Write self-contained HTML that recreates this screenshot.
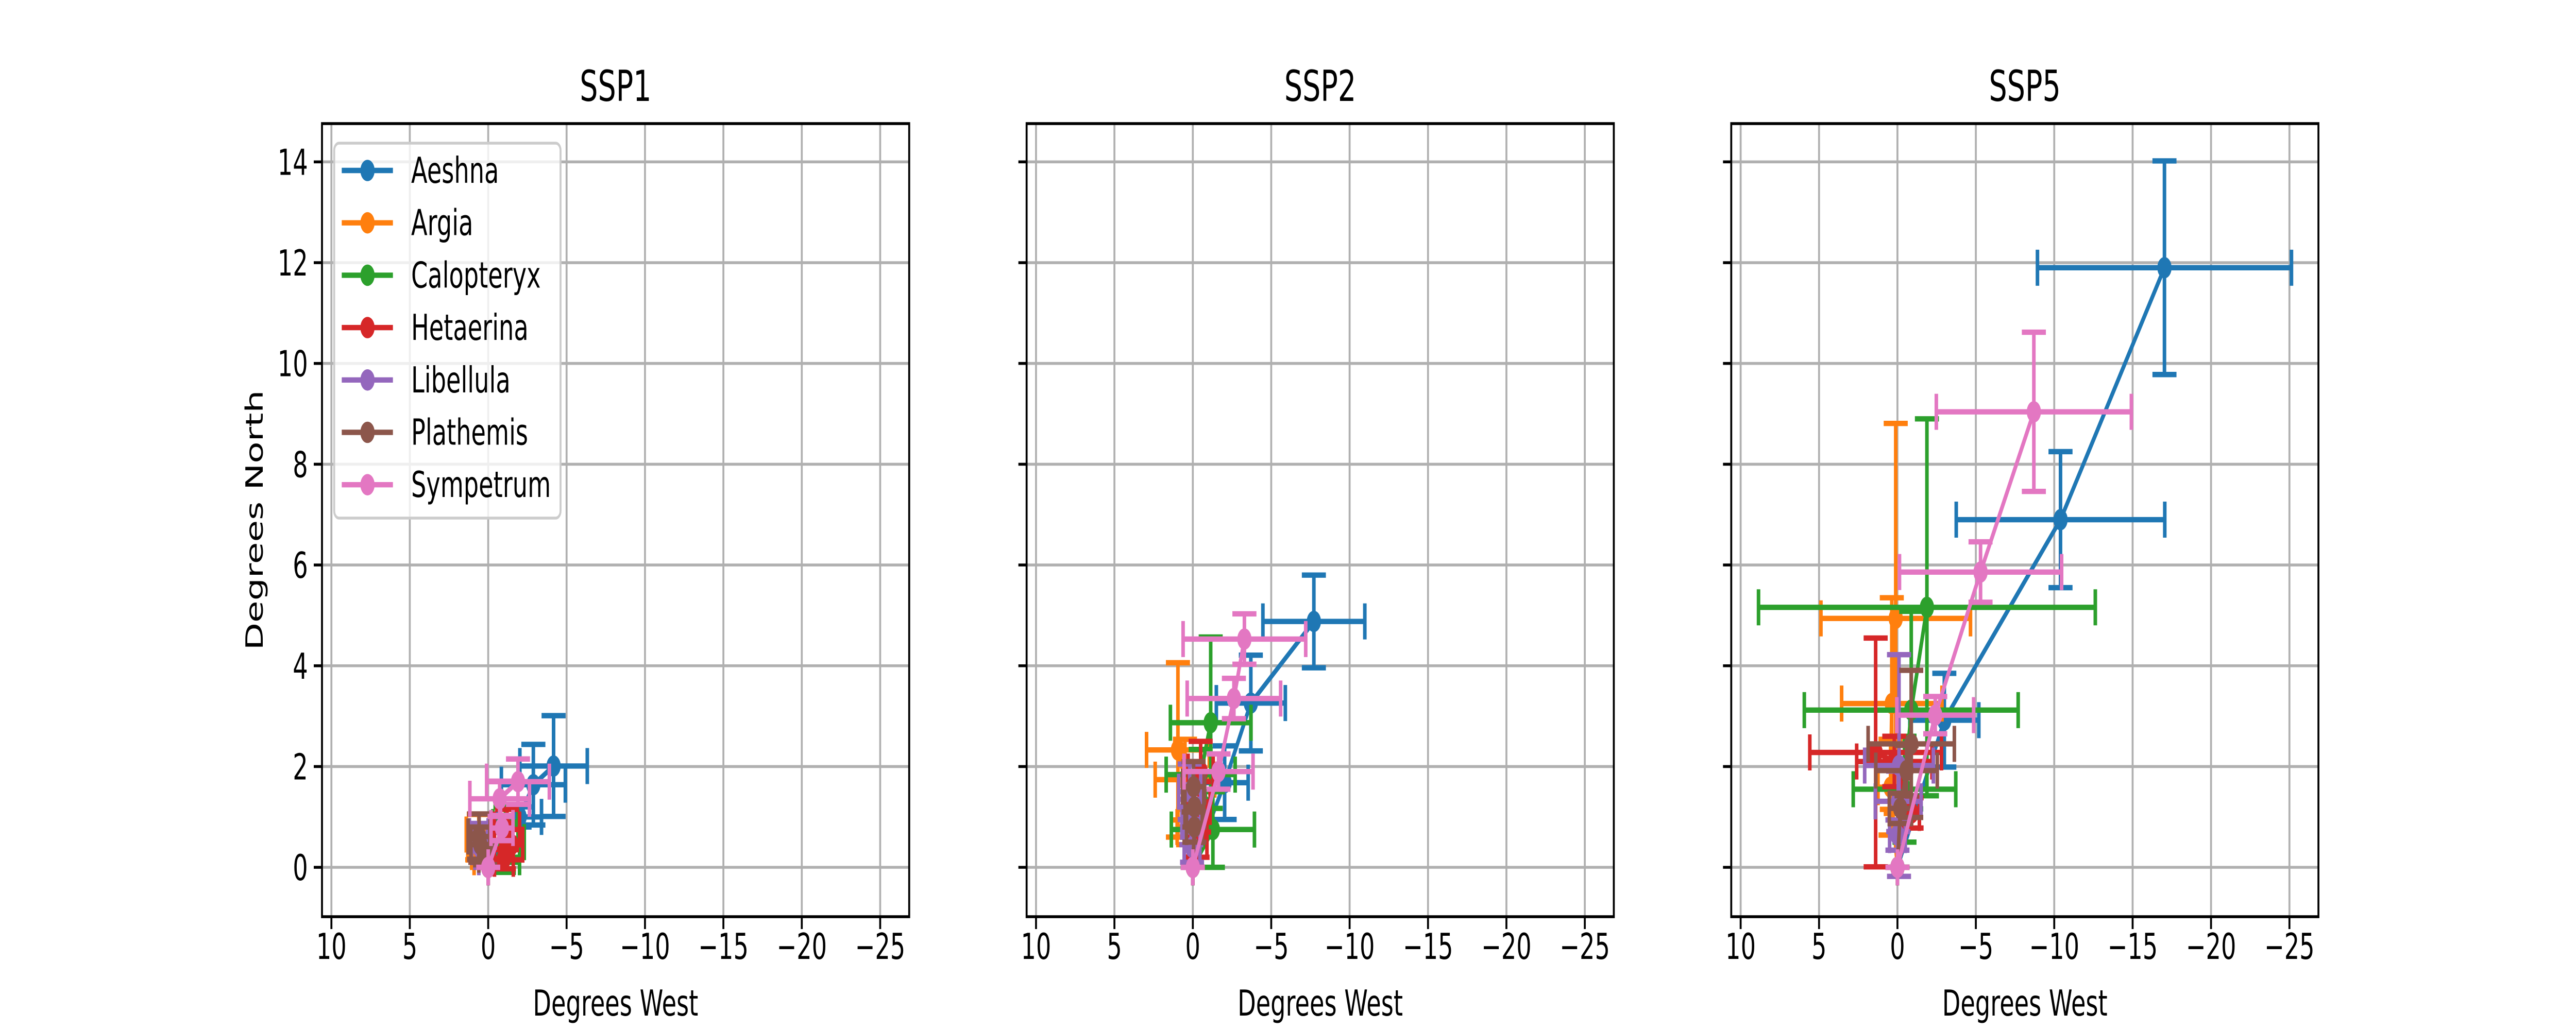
<!DOCTYPE html>
<html><head><meta charset="utf-8"><title>Dragonfly range shifts</title>
<style>html,body{margin:0;padding:0;background:#fff;width:100%;height:100%;overflow:hidden;}svg{display:block;width:100vw;height:100vh;font-family:"DejaVu Sans","Liberation Sans",sans-serif;}</style>
</head><body>
<svg id="fig" xmlns="http://www.w3.org/2000/svg" viewBox="0 0 7500 2000" preserveAspectRatio="none"></svg>
<script>
const species = ["Aeshna","Argia","Calopteryx","Hetaerina","Libellula","Plathemis","Sympetrum"];
const colors = ["#1f77b4","#ff7f0e","#2ca02c","#d62728","#9467bd","#8c564b","#e377c2"];
const scenarios = ["SSP1","SSP2","SSP5"];
const xTicks = [10,5,0,-5,-10,-15,-20,-25];
const xTickLabels = ["10","5","0","\u22125","\u221210","\u221215","\u221220","\u221225"];
const yTicks = [0,2,4,6,8,10,12,14];
const yTickLabels = ["0","2","4","6","8","10","12","14"];

// SSP1 data: per species arrays of 4 points
const ssp1X = [[0,-2.0,-2.88,-4.17],[0,0.4,0.7,0.6],[0,-1.0,-1.3,-1.1],[0,-1.0,-1.5,-1.2],[0,0.2,0.55,0.6],[0,0.2,0.5,0.58],[0,-0.88,-0.73,-1.9]];
const ssp1Y = [[0,1.0,1.64,2.01],[0,0.2,0.45,0.65],[0,0.2,0.5,0.8],[0,0.17,0.45,0.75],[0,0.2,0.4,0.62],[0,0.25,0.45,0.61],[0,0.78,1.36,1.7]];
const ssp1XErr = [[0,1.4,2.04,2.15],[0,0.5,0.6,0.8],[0,1.0,1.0,0.8],[0,0.6,0.7,0.8],[0,0.4,0.5,0.6],[0,0.4,0.6,0.7],[0,0.7,1.9,2.0]];
const ssp1YErr = [[0,0.2,0.8,1.0],[0,0.2,0.3,0.4],[0,0.3,0.4,0.4],[0,0.2,0.3,0.4],[0,0.2,0.25,0.25],[0,0.2,0.35,0.45],[0,0.25,0.35,0.45]];

// SSP2 data
const ssp2X = [[0,-2.03,-3.7,-7.72],[0,0.3,0.5,0.95],[0,-1.28,-0.5,-1.14],[0,-0.3,-0.4,-0.5],[0,0.05,0.1,0.2],[0,-0.1,-0.1,-0.05],[0,-1.64,-2.62,-3.29]];
const ssp2Y = [[0,1.68,3.26,4.88],[0,0.8,1.74,2.33],[0,0.75,1.84,2.87],[0,0.6,1.2,1.9],[0,0.4,0.9,1.5],[0,0.8,1.2,1.6],[0,1.9,3.35,4.53]];
const ssp2XErr = [[0,1.5,2.2,3.25],[0,0.7,1.9,2.0],[0,2.65,2.2,2.57],[0,0.6,0.7,0.8],[0,0.5,0.6,0.7],[0,0.5,0.6,0.7],[0,2.2,2.98,3.91]];
const ssp2YErr = [[0,0.73,0.95,0.92],[0,0.35,0.8,1.73],[0,0.75,0.5,1.7],[0,0.4,0.5,0.6],[0,0.3,0.45,0.55],[0,0.3,0.4,0.5],[0,0.35,0.4,0.5]];

// SSP5 data
const ssp5X = [[0,-2.99,-10.4,-17.03],[0,0.44,0.36,0.11],[0,-0.45,-0.88,-1.88],[0,-0.9,0.2,1.39],[0,0,-0.05,-0.1],[0,-0.18,-0.58,-0.88],[0,-2.41,-5.3,-8.7]];
const ssp5Y = [[0,2.92,6.9,11.9],[0,1.59,3.25,4.94],[0,1.55,3.12,5.16],[0,1.08,2.1,2.28],[0,0.64,1.31,2.02],[0,1.17,1.92,2.45],[0,3.02,5.86,9.04]];
const ssp5XErr = [[0,2.2,6.65,8.1],[0,0.8,3.2,4.77],[0,3.27,6.82,10.74],[0,0.5,2.4,4.2],[0,0.5,1.46,2.19],[0,0.7,1.96,2.75],[0,2.45,5.17,6.22]];
const ssp5YErr = [[0,0.93,1.35,2.12],[0,0.95,2.1,3.87],[0,1.05,1.96,3.74],[0,0.3,0.5,2.27],[0,0.3,0.6,2.2],[0,0.3,0.5,1.46],[0,0.37,0.6,1.58]];

const X_MIN = 10.6, X_MAX = -26.85, Y_MIN = -0.98, Y_MAX = 14.76;
const panelData = [[ssp1X,ssp1Y,ssp1XErr,ssp1YErr],[ssp2X,ssp2Y,ssp2XErr,ssp2YErr],[ssp5X,ssp5Y,ssp5XErr,ssp5YErr]];

const NS = "http://www.w3.org/2000/svg";
const svg = document.getElementById("fig");
function mk(tag, attrs, parent){const e=document.createElementNS(NS,tag);for(const k in attrs)e.setAttribute(k,attrs[k]);(parent||svg).appendChild(e);return e;}

const AX_W = 1709.6, AX_TOP = 240, AX_H = 1540;
const axLefts = [937.5, 2989.0, 5040.5];
const LW = 10.4, CAP = 35, MR = 20.8;

axLefts.forEach((left, p) => {
  const sx = v => left + (v - X_MIN) / (X_MAX - X_MIN) * AX_W;
  const sy = v => AX_TOP + (Y_MAX - v) / (Y_MAX - Y_MIN) * AX_H;
  const g = mk("g", {});
  
  
  xTicks.forEach((t,i) => {
    const l = mk("line",{x1:sx(t),x2:sx(t),y1:AX_TOP,y2:AX_TOP+AX_H,stroke:"#b0b0b0","stroke-width":5.6},g);
    
    
  });
  yTicks.forEach(t => {
    const l = mk("line",{x1:left,x2:left+AX_W,y1:sy(t),y2:sy(t),stroke:"#b0b0b0","stroke-width":5.6},g);
    
    
  });
  const [XS,YS,XE,YE] = panelData[p];
  const clip = mk("clipPath",{id:"clip"+p},g);
  mk("rect",{x:left,y:AX_TOP,width:AX_W,height:AX_H},clip);
  const sg = mk("g",{"clip-path":"url(#clip"+p+")"},g);
  species.forEach((sp, s) => {
    const c = colors[s];
    const gs = mk("g",{},sg);
    
    
    XS[s].forEach((xv,i) => {
      const yv = YS[s][i], xe = XE[s][i], ye = YE[s][i];
      const px = sx(xv), py = sy(yv);
      const x1 = sx(xv+xe), x2 = sx(xv-xe), y1 = sy(yv+ye), y2 = sy(yv-ye);
      const eb = mk("path",{d:`M${x1},${py}H${x2}M${x1},${py-CAP}V${py+CAP}M${x2},${py-CAP}V${py+CAP}M${px},${y1}V${y2}M${px-CAP},${y1}H${px+CAP}M${px-CAP},${y2}H${px+CAP}`,stroke:c,"stroke-width":LW,fill:"none"},gs);
      
      
    });
    const pts = XS[s].map((xv,i)=>sx(xv)+","+sy(YS[s][i])).join(" ");
    const pl = mk("polyline",{points:pts,stroke:c,"stroke-width":LW,fill:"none","stroke-linejoin":"round"},gs);
    
    
    XS[s].forEach((xv,i) => {
      const m = mk("circle",{cx:sx(xv),cy:sy(YS[s][i]),r:MR,fill:c},gs);
      
      
    });
  });
  const sp = mk("rect",{x:left,y:AX_TOP,width:AX_W,height:AX_H,fill:"none",stroke:"#000","stroke-width":5.6},g);
  
  
  xTicks.forEach((t,i) => {
    mk("line",{x1:sx(t),x2:sx(t),y1:AX_TOP+AX_H,y2:AX_TOP+AX_H+24,stroke:"#000","stroke-width":5.6},g);
    const tx = mk("text",{x:sx(t),y:1862,"font-size":69.4,"text-anchor":"middle",fill:"#000"},g);
    tx.textContent = xTickLabels[i];
    
    
  });
  yTicks.forEach((t,i) => {
    mk("line",{x1:left-24,x2:left,y1:sy(t),y2:sy(t),stroke:"#000","stroke-width":5.6},g);
    if (p === 0) {
      const ty = mk("text",{x:left-41,y:sy(t)+25,"font-size":69.4,"text-anchor":"end",fill:"#000"},g);
      ty.textContent = yTickLabels[i];
      
      
    }
  });
  const title = mk("text",{x:left+AX_W/2,y:196,"font-size":83.3,"text-anchor":"middle",fill:"#000"},g);
  title.textContent = scenarios[p];
  
  
  const xl = mk("text",{x:left+AX_W/2,y:1972,"font-size":69.4,"text-anchor":"middle",fill:"#000"},g);
  xl.textContent = "Degrees West";
  
  
  if (p === 0) {
    const yl = mk("text",{x:0,y:0,"font-size":69.4,"text-anchor":"middle",fill:"#000",transform:`translate(765,${AX_TOP+AX_H/2}) rotate(-90)`},g);
    yl.textContent = "Degrees North";
    
    
    const lg = mk("g",{},g);
    
    
    mk("rect",{x:973,y:278,width:659,height:728,rx:14,fill:"#fff","fill-opacity":0.8,stroke:"#cccccc","stroke-width":5.6},lg);
    species.forEach((sp,s) => {
      const cy = 331 + s*101.7;
      const e = mk("g",{},lg);
      
      
      mk("line",{x1:995,x2:1144,y1:cy,y2:cy,stroke:colors[s],"stroke-width":LW},e);
      mk("circle",{cx:1070,cy:cy,r:MR,fill:colors[s]},e);
      const t = mk("text",{x:1197,y:cy+24,"font-size":69.4,fill:"#000"},e);
      t.textContent = sp;
    });
  }
});
</script>
</body></html>
